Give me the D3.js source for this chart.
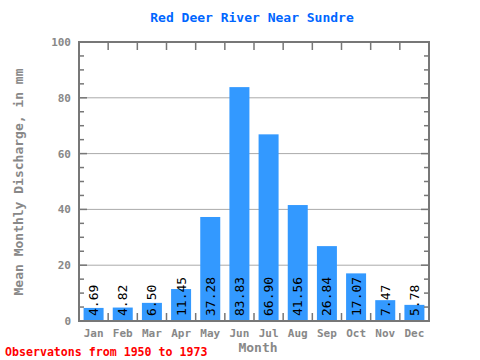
<!DOCTYPE html>
<html><head><meta charset="utf-8">
<script src="https://cdn.jsdelivr.net/npm/d3@7"></script>
<style>body{margin:0;background:#fff}</style>
</head><body>
<script>
const months = ["Jan","Feb","Mar","Apr","May","Jun","Jul","Aug","Sep","Oct","Nov","Dec"];
const values = [4.69,4.82,6.50,11.45,37.28,83.83,66.90,41.56,26.84,17.07,7.47,5.78];
const labels = ["4.69","4.82","6.50","11.45","37.28","83.83","66.90","41.56","26.84","17.07","7.47","5.78"];
const yTicks = [0,20,40,60,80,100];

const W=480,H=360;
const L=79,R=429,T=42,B=321;
const mono='"DejaVu Sans Mono","Liberation Mono",monospace';
const axisColor='#777';

const svg=d3.select("body").append("svg").attr("width",W).attr("height",H);
const x=d3.scaleBand().domain(months).range([L,R]).padding(0);
const y=d3.scaleLinear().domain([0,100]).range([B,T]);

// gridlines
svg.selectAll(".grid").data(yTicks.filter(d=>d>0&&d<100)).enter().append("line")
 .attr("x1",L).attr("x2",R).attr("y1",d=>y(d)).attr("y2",d=>y(d))
 .attr("stroke","#aaa").attr("stroke-width",1);

// bars
const bw=20;
svg.selectAll(".bar").data(values).enter().append("rect")
 .attr("x",(d,i)=>x(months[i])+x.bandwidth()/2-bw/2)
 .attr("width",bw)
 .attr("y",d=>y(d)).attr("height",d=>B-y(d))
 .attr("fill","#3399ff");

// value labels
svg.selectAll(".vl").data(values).enter().append("text")
 .attr("transform",(d,i)=>`translate(${x(months[i])+x.bandwidth()/2+4.5},${B-5}) rotate(-90)`)
 .attr("font-family",mono).attr("font-size","13px").attr("fill","#000")
 .text((d,i)=>labels[i]);

// frame
svg.append("rect").attr("x",L).attr("y",T).attr("width",R-L).attr("height",B-T)
 .attr("fill","none").attr("stroke",axisColor).attr("stroke-width",2);

// y minor ticks left and right
const minor=d3.range(5,100,5);
svg.selectAll(".tl").data(minor).enter().append("line")
 .attr("x1",L).attr("x2",d=>d%20===0?L+8:L+5).attr("y1",d=>y(d)).attr("y2",d=>y(d))
 .attr("stroke",axisColor).attr("stroke-width",1.5);
svg.selectAll(".tr").data(minor).enter().append("line")
 .attr("x1",R).attr("x2",d=>d%20===0?R-8:R-5).attr("y1",d=>y(d)).attr("y2",d=>y(d))
 .attr("stroke",axisColor).attr("stroke-width",1.5);

// x ticks at month boundaries top & bottom
const bounds=months.slice(1).map(m=>x(m));
svg.selectAll(".tt").data(bounds).enter().append("line")
 .attr("x1",d=>d).attr("x2",d=>d).attr("y1",T).attr("y2",T+8)
 .attr("stroke",axisColor).attr("stroke-width",1.5);
svg.selectAll(".tb").data(bounds).enter().append("line")
 .attr("x1",d=>d).attr("x2",d=>d).attr("y1",B).attr("y2",B-8)
 .attr("stroke",axisColor).attr("stroke-width",1.5);

// y tick labels
svg.selectAll(".yl").data(yTicks).enter().append("text")
 .attr("x",L-8).attr("y",d=>y(d)+4).attr("text-anchor","end")
 .attr("font-family",mono).attr("font-weight","bold").attr("font-size","11px").attr("fill","#888")
 .text(d=>d);

// x tick labels
svg.selectAll(".xl").data(months).enter().append("text")
 .attr("x",d=>x(d)+x.bandwidth()/2).attr("y",337).attr("text-anchor","middle")
 .attr("font-family",mono).attr("font-weight","bold").attr("font-size","11px").attr("fill","#888")
 .text(d=>d);

// title
svg.append("text").attr("x",252).attr("y",22).attr("text-anchor","middle")
 .attr("font-family",mono).attr("font-weight","bold").attr("font-size","13px").attr("fill","#0066ff")
 .text("Red Deer River Near Sundre");

// axis titles
svg.append("text").attr("x",258).attr("y",352).attr("text-anchor","middle")
 .attr("font-family",mono).attr("font-weight","bold").attr("font-size","13px").attr("fill","#888")
 .text("Month");
svg.append("text").attr("transform","translate(23,182) rotate(-90)").attr("text-anchor","middle")
 .attr("font-family",mono).attr("font-weight","bold").attr("font-size","13px").attr("fill","#888")
 .text("Mean Monthly Discharge, in mm");

// footer
svg.append("text").attr("x",5).attr("y",356)
 .attr("font-family",mono).attr("font-weight","bold").attr("font-size","11.6px").attr("fill","#ff0000")
 .text("Observatons from 1950 to 1973");
</script>
</body></html>
